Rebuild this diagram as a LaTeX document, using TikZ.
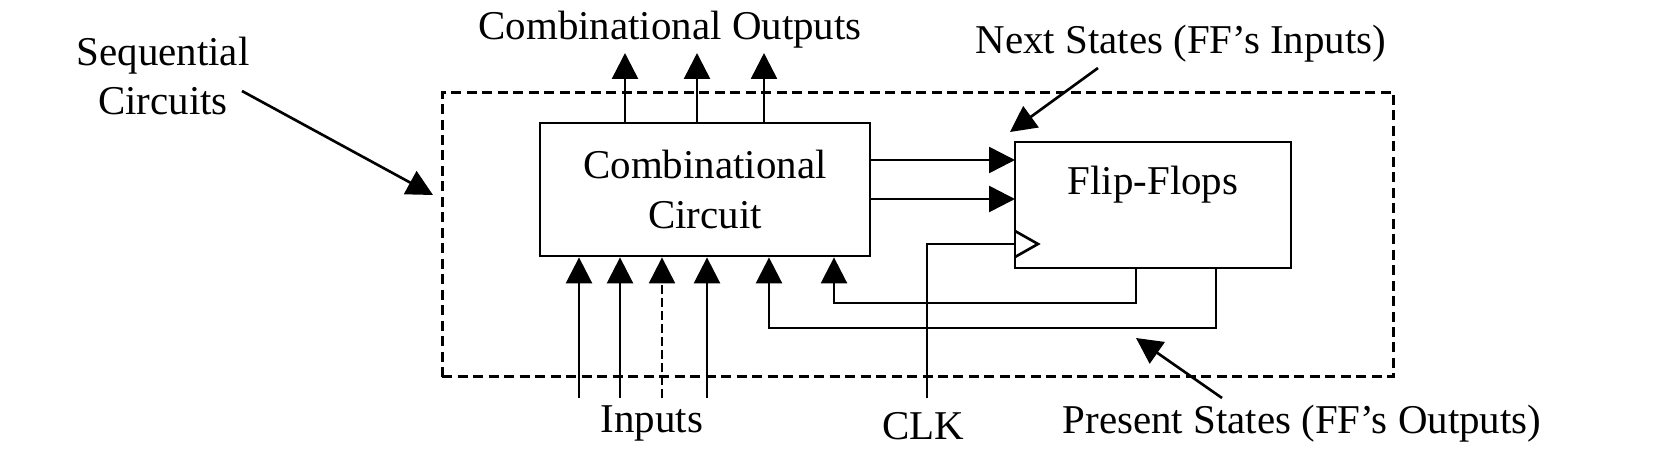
\documentclass[tikz,border=0pt]{standalone}
\usepackage{fontspec}
\setmainfont{Liberation Serif}
\usetikzlibrary{arrows.meta}
\begin{document}
\begin{tikzpicture}[x=0.02cm,y=-0.02cm,line width=1.5pt,
	arr/.style={-{Triangle[length=0.52cm,width=0.52cm]}},
	box/.style={draw,line width=1.6pt,inner sep=0pt},
	txt/.style={font=\fontsize{23.3}{28}\selectfont,inner sep=0pt}]
	\useasboundingbox (0,0) rectangle (1657,457);
	\node[box,line width=1.7pt,dash pattern=on 0.2cm off 0.11cm,minimum width=19.04cm,minimum height=5.7cm] (frame) at (918,234.5) {};
	\node[box,txt,align=center,minimum width=6.6cm,minimum height=2.66cm] (comb) at (705,189.5) {Combinational\\Circuit};
	\node[box,minimum width=5.52cm,minimum height=2.52cm] (ff) at (1153,205) {};
	\node[txt,anchor=base] (fflbl) at (1153,194) {Flip-Flops};
	\node[txt,align=center,anchor=north] (seq) at (163,36) {Sequential\\Circuits};
	\node[txt,anchor=base] (outs) at (670,39) {Combinational Outputs};
	\node[txt,anchor=base] (next) at (1181,53) {Next States (FF’s Inputs)};
	\node[txt,anchor=base] (ins) at (652,432) {Inputs};
	\node[txt,anchor=base] (clklbl) at (923,439) {CLK};
	\node[txt,anchor=base] (pres) at (1302,433) {Present States (FF’s Outputs)};
	\foreach \i/\x in {1/625,2/697,3/764} \coordinate (o\i) at (\x,53);
	\foreach \i in {1,2,3} \draw[arr] (comb.north -| o\i) -- (o\i);
	\foreach \i/\x in {1/579,2/620,3/662,4/707} \coordinate (in\i) at (\x,398);
	\foreach \i in {1,2,4} \draw[arr] (in\i) -- (in\i |- comb.south);
	\draw[arr,line width=1.2pt,dash pattern=on 0.18cm off 0.08cm] (in3) -- (in3 |- comb.south);
	\foreach \i/\y in {1/160,2/199} \coordinate (d\i) at (1015,\y);
	\foreach \i in {1,2} \draw[arr] (comb.east |- d\i) -- (d\i);
	\coordinate (ck) at (1015,244); \coordinate (clk) at (927,398);
	\draw (clk) |- (ck);
	\draw (ck) ++(0,-13) -- ++(23,13) -- ++(-23,13);
	\foreach \i/\a/\b/\y in {1/1136/834/303,2/1216/769/328} {\coordinate (f\i) at (\a,\y); \coordinate (g\i) at (\b,\y);}
	\foreach \i in {1,2} \draw[arr] (ff.south -| f\i) -- (f\i) -- (g\i) -- (g\i |- comb.south);
	\coordinate (s0) at (242,91); \coordinate (s1) at (433,195);
	\coordinate (n0) at (1098,68); \coordinate (n1) at (1010,132);
	\coordinate (p0) at (1222,398); \coordinate (p1) at (1136,338);
	\foreach \a/\b in {s0/s1,n0/n1,p0/p1} \draw[arr] (\a) -- (\b);
\end{tikzpicture}
\end{document}
